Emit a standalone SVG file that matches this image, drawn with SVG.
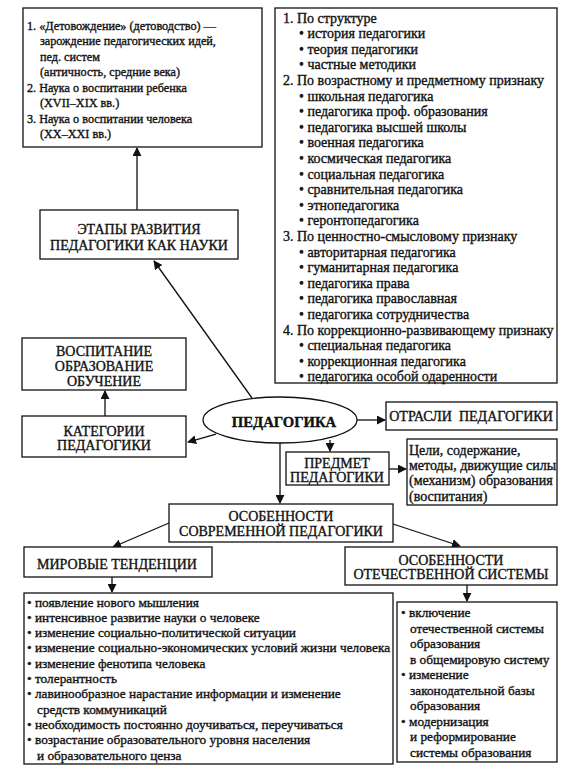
<svg xmlns="http://www.w3.org/2000/svg" width="581" height="769" viewBox="0 0 581 769">
<defs>
<style>
.b{fill:#fff;stroke:#111;stroke-width:1.3}
text{font-family:"Liberation Serif","DejaVu Serif",serif;font-size:14px;fill:#111;stroke:#111;stroke-width:0.35}
.c{text-anchor:middle}
.l{stroke:#111;stroke-width:1.3;fill:none}
</style>
<marker id="ah" viewBox="0 0 10 10" refX="9" refY="5" markerWidth="9" markerHeight="9" markerUnits="userSpaceOnUse" orient="auto">
<path d="M0,0 L10,5 L0,10 z" fill="#111"/>
</marker>
</defs>
<rect width="581" height="769" fill="#fff"/>
<g id="connectors">
<line class="l" x1="137" y1="210" x2="137" y2="148" marker-end="url(#ah)"/>
<line class="l" x1="252" y1="398" x2="154" y2="261" marker-end="url(#ah)"/>
<line class="l" x1="105" y1="416" x2="105" y2="391" marker-end="url(#ah)"/>
<line class="l" x1="216" y1="434" x2="188" y2="442" marker-end="url(#ah)"/>
<line class="l" x1="357" y1="420" x2="385" y2="420" marker-end="url(#ah)"/>
<line class="l" x1="330" y1="440" x2="330" y2="451" marker-end="url(#ah)"/>
<line class="l" x1="389" y1="469" x2="406" y2="469" marker-end="url(#ah)"/>
<line class="l" x1="280" y1="443" x2="280" y2="503" marker-end="url(#ah)"/>
<line class="l" x1="169" y1="523" x2="113" y2="547" marker-end="url(#ah)"/>
<line class="l" x1="393" y1="524" x2="460" y2="546" marker-end="url(#ah)"/>
<line class="l" x1="112" y1="577" x2="112" y2="592" marker-end="url(#ah)"/>
<line class="l" x1="467" y1="585" x2="467" y2="601" marker-end="url(#ah)"/>
</g>
<g id="stages-list">
<rect class="b" x="23" y="8" width="239" height="139"/>
<text style="font-size:12.2px"><tspan x="27" y="29.5">1. «Детовождение» (детоводство) —</tspan><tspan x="40" y="45">зарождение педагогических идей,</tspan><tspan x="40" y="60.5">пед. систем</tspan><tspan x="40" y="76">(античность, средние века)</tspan><tspan x="27" y="91.5">2. Наука о воспитании ребенка</tspan><tspan x="40" y="107">(XVII–XIX вв.)</tspan><tspan x="27" y="122.5">3. Наука о воспитании человека</tspan><tspan x="40" y="138">(XX–XXI вв.)</tspan></text>
</g>
<g id="branches-list">
<rect class="b" x="275" y="8" width="282" height="375"/>
<text>
<tspan x="283" y="22.5">1. По структуре</tspan>
<tspan x="299" y="38.1">• история педагогики</tspan>
<tspan x="299" y="53.7">• теория педагогики</tspan>
<tspan x="299" y="69.3">• частные методики</tspan>
<tspan x="283" y="84.9">2. По возрастному и предметному признаку</tspan>
<tspan x="299" y="100.5">• школьная педагогика</tspan>
<tspan x="299" y="116.1">• педагогика проф. образования</tspan>
<tspan x="299" y="131.7">• педагогика высшей школы</tspan>
<tspan x="299" y="147.3">• военная педагогика</tspan>
<tspan x="299" y="162.9">• космическая педагогика</tspan>
<tspan x="299" y="178.5">• социальная педагогика</tspan>
<tspan x="299" y="194.1">• сравнительная педагогика</tspan>
<tspan x="299" y="209.7">• этнопедагогика</tspan>
<tspan x="299" y="225.3">• геронтопедагогика</tspan>
<tspan x="283" y="240.9">3. По ценностно-смысловому признаку</tspan>
<tspan x="299" y="256.5">• авторитарная педагогика</tspan>
<tspan x="299" y="272.1">• гуманитарная педагогика</tspan>
<tspan x="299" y="287.7">• педагогика права</tspan>
<tspan x="299" y="303.3">• педагогика православная</tspan>
<tspan x="299" y="318.9">• педагогика сотрудничества</tspan>
<tspan x="283" y="334.5">4. По коррекционно-развивающему признаку</tspan>
<tspan x="299" y="350.1">• специальная педагогика</tspan>
<tspan x="299" y="365.7">• коррекционная педагогика</tspan>
<tspan x="299" y="381.3">• педагогика особой одаренности</tspan>
</text>
</g>
<g id="stages">
<rect class="b" x="40" y="210" width="198" height="49"/>
<text class="c"><tspan x="139" y="233.5">ЭТАПЫ РАЗВИТИЯ</tspan><tspan x="139" y="249.5">ПЕДАГОГИКИ КАК НАУКИ</tspan></text>
</g>
<g id="upbringing">
<rect class="b" x="22" y="338" width="164" height="52"/>
<text class="c"><tspan x="104" y="355.5">ВОСПИТАНИЕ</tspan><tspan x="104" y="370.5">ОБРАЗОВАНИЕ</tspan><tspan x="104" y="385.5">ОБУЧЕНИЕ</tspan></text>
</g>
<g id="categories">
<rect class="b" x="22" y="416" width="164" height="41"/>
<text class="c"><tspan x="104" y="435.5">КАТЕГОРИИ</tspan><tspan x="104" y="449.5">ПЕДАГОГИКИ</tspan></text>
</g>
<g id="pedagogy">
<ellipse class="b" cx="280" cy="420" rx="77" ry="23"/>
<text class="c" x="284" y="427" style="font-weight:bold;font-size:14.7px">ПЕДАГОГИКА</text>
</g>
<g id="branches">
<rect class="b" x="386" y="402" width="171" height="28"/>
<text class="c" x="471" y="421" xml:space="preserve">ОТРАСЛИ  ПЕДАГОГИКИ</text>
</g>
<g id="subject">
<rect class="b" x="286" y="452" width="103" height="33"/>
<text class="c"><tspan x="337" y="467.5">ПРЕДМЕТ</tspan><tspan x="337" y="482">ПЕДАГОГИКИ</tspan></text>
</g>
<g id="subject-desc">
<rect class="b" x="407" y="439" width="150" height="66"/>
<text><tspan x="409" y="454.5">Цели, содержание,</tspan><tspan x="409" y="469.5">методы, движущие силы</tspan><tspan x="409" y="484.5">(механизм) образования</tspan><tspan x="409" y="500.5">(воспитания)</tspan></text>
</g>
<g id="features">
<rect class="b" x="169" y="504" width="224" height="38"/>
<text class="c"><tspan x="281" y="520.5">ОСОБЕННОСТИ</tspan><tspan x="281" y="536">СОВРЕМЕННОЙ ПЕДАГОГИКИ</tspan></text>
</g>
<g id="world">
<rect class="b" x="24" y="547" width="188" height="30"/>
<text class="c" x="117" y="568.5">МИРОВЫЕ ТЕНДЕНЦИИ</text>
</g>
<g id="national">
<rect class="b" x="345" y="547" width="212" height="38"/>
<text class="c"><tspan x="451" y="564.5">ОСОБЕННОСТИ</tspan><tspan x="451" y="579">ОТЕЧЕСТВЕННОЙ СИСТЕМЫ</tspan></text>
</g>
<g id="world-list">
<rect class="b" x="24" y="593" width="369" height="171"/>
<text style="font-size:13.3px">
<tspan x="27" y="606.5">• появление нового мышления</tspan>
<tspan x="27" y="621.8">• интенсивное развитие науки о человеке</tspan>
<tspan x="27" y="637.1">• изменение социально-политической ситуации</tspan>
<tspan x="27" y="652.4">• изменение социально-экономических условий жизни человека</tspan>
<tspan x="27" y="667.7">• изменение фенотипа человека</tspan>
<tspan x="27" y="683">• толерантность</tspan>
<tspan x="27" y="698.3">• лавинообразное нарастание информации и изменение</tspan>
<tspan x="37" y="713.6">средств коммуникаций</tspan>
<tspan x="27" y="728.9">• необходимость постоянно доучиваться, переучиваться</tspan>
<tspan x="27" y="744.2">• возрастание образовательного уровня населения</tspan>
<tspan x="37" y="759.5">и образовательного ценза</tspan>
</text>
</g>
<g id="national-list">
<rect class="b" x="397" y="602" width="160" height="160"/>
<text style="font-size:13.3px">
<tspan x="401" y="616.5">• включение</tspan>
<tspan x="410" y="632.5">отечественной системы</tspan>
<tspan x="410" y="648">образования</tspan>
<tspan x="410" y="663.5">в общемировую систему</tspan>
<tspan x="401" y="679">• изменение</tspan>
<tspan x="410" y="694.5">законодательной базы</tspan>
<tspan x="410" y="710">образования</tspan>
<tspan x="401" y="725.5">• модернизация</tspan>
<tspan x="410" y="741">и реформирование</tspan>
<tspan x="410" y="756.5">системы образования</tspan>
</text>
</g>
</svg>
